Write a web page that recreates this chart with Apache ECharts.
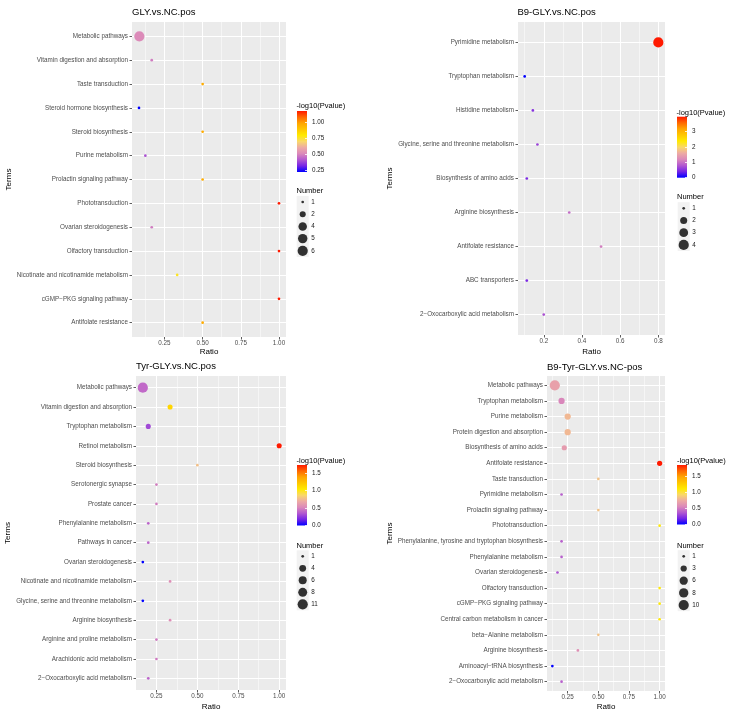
<!DOCTYPE html>
<html>
<head>
<meta charset="utf-8">
<title>KEGG bubble charts</title>
<script src="https://cdn.jsdelivr.net/npm/echarts@6/dist/echarts.min.js"></script>
<style>
  html, body { margin: 0; padding: 0; background: #fff; }
  #main { width: 734px; height: 719px; }
</style>
</head>
<body>
<div id="main"></div>
<script>
// ---------- GLY.vs.NC.pos ----------
var terms1 = ['Metabolic pathways', 'Vitamin digestion and absorption', 'Taste transduction',
  'Steroid hormone biosynthesis', 'Steroid biosynthesis', 'Purine metabolism',
  'Prolactin signaling pathway', 'Phototransduction', 'Ovarian steroidogenesis',
  'Olfactory transduction', 'Nicotinate and nicotinamide metabolism',
  'cGMP\u2212PKG signaling pathway', 'Antifolate resistance'];
var ratio1 = [0.0857, 0.1667, 0.5, 0.0833, 0.5, 0.125, 0.5, 1.0, 0.1667, 1.0, 0.3333, 1.0, 0.5];
var logp1 = [0.51, 0.48, 0.96, 0.22, 0.96, 0.40, 0.96, 1.17, 0.48, 1.17, 0.76, 1.17, 0.96];
var number1 = [6, 1, 1, 1, 1, 1, 1, 1, 1, 1, 1, 1, 1];
var xTicks1 = ['0.25', '0.50', '0.75', '1.00'];
var xMinor1 = [0.125, 0.375, 0.625, 0.875];
var colorTicks1 = ['0.25', '0.50', '0.75', '1.00'];
var sizeBreaks1 = [1, 2, 4, 5, 6];

// ---------- B9-GLY.vs.NC.pos ----------
var terms2 = ['Pyrimidine metabolism', 'Tryptophan metabolism', 'Histidine metabolism',
  'Glycine, serine and threonine metabolism', 'Biosynthesis of amino acids',
  'Arginine biosynthesis', 'Antifolate resistance', 'ABC transporters',
  '2\u2212Oxocarboxylic acid metabolism'];
var ratio2 = [0.8, 0.1, 0.1429, 0.1667, 0.1111, 0.3333, 0.5, 0.1111, 0.2];
var logp2 = [3.95, 0.0, 0.52, 0.64, 0.44, 0.95, 1.1, 0.44, 0.75];
var number2 = [4, 1, 1, 1, 1, 1, 1, 1, 1];
var xTicks2 = ['0.2', '0.4', '0.6', '0.8'];
var xMinor2 = [0.1, 0.3, 0.5, 0.7];
var colorTicks2 = ['0', '1', '2', '3'];
var sizeBreaks2 = [1, 2, 3, 4];

// ---------- Tyr-GLY.vs.NC.pos ----------
var terms3 = ['Metabolic pathways', 'Vitamin digestion and absorption', 'Tryptophan metabolism',
  'Retinol metabolism', 'Steroid biosynthesis', 'Serotonergic synapse', 'Prostate cancer',
  'Phenylalanine metabolism', 'Pathways in cancer', 'Ovarian steroidogenesis',
  'Nicotinate and nicotinamide metabolism', 'Glycine, serine and threonine metabolism',
  'Arginine biosynthesis', 'Arginine and proline metabolism', 'Arachidonic acid metabolism',
  '2\u2212Oxocarboxylic acid metabolism'];
var ratio3 = [0.1667, 0.3333, 0.2, 1.0, 0.5, 0.25, 0.25, 0.2, 0.2, 0.1667, 0.3333, 0.1667, 0.3333, 0.25, 0.25, 0.2];
var logp3 = [0.41, 1.15, 0.30, 1.74, 0.78, 0.48, 0.48, 0.39, 0.39, 0.0, 0.55, 0.0, 0.55, 0.47, 0.47, 0.39];
var number3 = [11, 2, 2, 2, 1, 1, 1, 1, 1, 1, 1, 1, 1, 1, 1, 1];
var xTicks3 = ['0.25', '0.50', '0.75', '1.00'];
var xMinor3 = [0.125, 0.375, 0.625, 0.875];
var colorTicks3 = ['0.0', '0.5', '1.0', '1.5'];
var sizeBreaks3 = [1, 4, 6, 8, 11];

// ---------- B9-Tyr-GLY.vs.NC-pos ----------
var terms4 = ['Metabolic pathways', 'Tryptophan metabolism', 'Purine metabolism',
  'Protein digestion and absorption', 'Biosynthesis of amino acids', 'Antifolate resistance',
  'Taste transduction', 'Pyrimidine metabolism', 'Prolactin signaling pathway',
  'Phototransduction', 'Phenylalanine, tyrosine and tryptophan biosynthesis',
  'Phenylalanine metabolism', 'Ovarian steroidogenesis', 'Olfactory transduction',
  'cGMP\u2212PKG signaling pathway', 'Central carbon metabolism in cancer',
  'beta\u2212Alanine metabolism', 'Arginine biosynthesis', 'Aminoacyl\u2212tRNA biosynthesis',
  '2\u2212Oxocarboxylic acid metabolism'];
var ratio4 = [0.1449, 0.2, 0.25, 0.25, 0.2222, 1.0, 0.5, 0.2, 0.5, 1.0, 0.2, 0.2, 0.1667, 1.0, 1.0, 1.0, 0.5, 0.3333, 0.125, 0.2];
var logp4 = [0.69, 0.55, 0.80, 0.80, 0.66, 1.86, 0.84, 0.40, 0.84, 1.10, 0.40, 0.40, 0.36, 1.10, 1.10, 1.10, 0.84, 0.60, 0.0, 0.40];
var number4 = [10, 3, 3, 3, 2, 2, 1, 1, 1, 1, 1, 1, 1, 1, 1, 1, 1, 1, 1, 1];
var xTicks4 = ['0.25', '0.50', '0.75', '1.00'];
var xMinor4 = [0.125, 0.375, 0.625, 0.875];
var colorTicks4 = ['0.0', '0.5', '1.0', '1.5'];
var sizeBreaks4 = [1, 3, 6, 8, 10];

// colour ramp: blue -> purple -> pink -> yellow -> orange -> red
var ramp = ['#0000ff', '#7524e6', '#b258d0', '#db89ba', '#edaaa4', '#f9d86a',
  '#ffea00', '#ffc700', '#ffa500', '#ff6700', '#ff1a00'];

var panels = [
  { title: 'GLY.vs.NC.pos', terms: terms1, ratio: ratio1, logp: logp1, number: number1,
    xTicks: xTicks1, xMinor: xMinor1, colorTicks: colorTicks1, sizeBreaks: sizeBreaks1 },
  { title: 'B9-GLY.vs.NC.pos', terms: terms2, ratio: ratio2, logp: logp2, number: number2,
    xTicks: xTicks2, xMinor: xMinor2, colorTicks: colorTicks2, sizeBreaks: sizeBreaks2 },
  { title: 'Tyr-GLY.vs.NC.pos', terms: terms3, ratio: ratio3, logp: logp3, number: number3,
    xTicks: xTicks3, xMinor: xMinor3, colorTicks: colorTicks3, sizeBreaks: sizeBreaks3 },
  { title: 'B9-Tyr-GLY.vs.NC-pos', terms: terms4, ratio: ratio4, logp: logp4, number: number4,
    xTicks: xTicks4, xMinor: xMinor4, colorTicks: colorTicks4, sizeBreaks: sizeBreaks4 }
];

// where each panel sits on the page (pixels)
var layouts = [
  { plot: [132, 22, 154, 315], title: [132, 7], cb: [297, 111, 61], cbTitle: [296.5, 102],
    size: [302.7, 202, 12.2], sizeTitle: [296.5, 187], yGap: 115, xGap: 11 },
  { plot: [518, 22, 147, 313], title: [517.5, 7], cb: [677, 116.7, 61], cbTitle: [676.5, 108.5],
    size: [683.7, 208.3, 12.2], sizeTitle: [677, 193], yGap: 123, xGap: 12.5 },
  { plot: [136, 376, 150, 314], title: [136, 361.5], cb: [297, 465, 60.5], cbTitle: [296.5, 456.5],
    size: [302.7, 556.3, 12], sizeTitle: [296.5, 541.5], yGap: 119, xGap: 12.5 },
  { plot: [547, 376, 118, 315], title: [547, 362], cb: [677, 465, 59.5], cbTitle: [677, 456.5],
    size: [683.7, 556.3, 12.2], sizeTitle: [677, 541.5], yGap: 152, xGap: 11.7 }
];

var FONT = '"Liberation Sans", Arial, Helvetica, sans-serif';
var AXIS_TEXT = { fontSize: 6.3, color: '#4d4d4d', fontFamily: FONT };
var TICK_LINE = { color: '#333333', width: 0.8 };

function labelFor(labels) {
  var vals = labels.map(Number);
  return function (v) {
    for (var i = 0; i < vals.length; i++) {
      if (Math.abs(vals[i] - v) < 1e-9) return labels[i];
    }
    return '';
  };
}

function range(n) {
  var a = [];
  for (var i = 0; i < n; i++) a.push(i);
  return a;
}

var option = {
  backgroundColor: '#ffffff',
  animation: false,
  textStyle: { fontFamily: FONT },
  title: [], grid: [], xAxis: [], yAxis: [], series: [], visualMap: []
};

panels.forEach(function (p, k) {
  var L = layouts[k];
  var n = p.terms.length;
  var xmin = Math.min.apply(null, p.ratio), xmax = Math.max.apply(null, p.ratio);
  var pad = (xmax - xmin) * 0.05;
  var pmin = Math.min.apply(null, p.logp), pmax = Math.max.apply(null, p.logp);
  var nmin = Math.min.apply(null, p.number), nmax = Math.max.apply(null, p.number);

  // ggplot-like area scale, size 1..6
  function dot(v) {
    var s = nmax > nmin ? 1 + 5 * Math.sqrt((v - nmin) / (nmax - nmin)) : 3.5;
    return 1.5 * s + 1.2;
  }

  var g = option.grid.length, xa = option.xAxis.length, ya = option.yAxis.length;

  // main plot
  option.grid.push({ left: L.plot[0], top: L.plot[1], width: L.plot[2], height: L.plot[3],
    show: true, backgroundColor: '#ebebeb', borderWidth: 0, outerBoundsMode: 'none' });
  // colour bar
  option.grid.push({ left: L.cb[0], top: L.cb[1], width: 10, height: L.cb[2],
    show: true, borderWidth: 0, outerBoundsMode: 'none',
    backgroundColor: new echarts.graphic.LinearGradient(0, 1, 0, 0, ramp.map(function (c, i) {
      return { offset: i / (ramp.length - 1), color: c };
    })) });
  // size keys
  var m = p.sizeBreaks.length;
  option.grid.push({ left: L.size[0] - 6, top: L.size[1] - L.size[2] / 2, width: 12,
    height: m * L.size[2], show: true, backgroundColor: '#f2f2f2', borderWidth: 0,
    outerBoundsMode: 'none' });

  var xVals = p.xTicks.map(Number);
  option.xAxis.push({
    type: 'value', gridIndex: g, position: 'bottom', min: xmin - pad, max: xmax + pad,
    name: 'Ratio', nameLocation: 'middle', nameGap: L.xGap,
    nameTextStyle: { fontSize: 8, color: '#000', fontFamily: FONT },
    axisLine: { show: false, onZero: false },
    axisTick: { show: true, length: 2.5, lineStyle: TICK_LINE, customValues: xVals },
    axisLabel: { customValues: xVals, formatter: labelFor(p.xTicks), margin: 3.5,
      fontSize: AXIS_TEXT.fontSize, color: AXIS_TEXT.color },
    splitLine: { show: true, lineStyle: { color: '#ffffff', width: 1 } }
  });
  // minor grid lines
  option.xAxis.push({
    type: 'value', gridIndex: g, position: 'top', min: xmin - pad, max: xmax + pad,
    axisLine: { show: false, onZero: false },
    axisTick: { show: false, customValues: p.xMinor },
    axisLabel: { show: false, customValues: p.xMinor },
    splitLine: { show: true, lineStyle: { color: '#ffffff', width: 0.5 } }
  });
  option.xAxis.push({ type: 'value', gridIndex: g + 1, show: false });
  option.xAxis.push({ type: 'value', gridIndex: g + 2, show: false, min: -1, max: 1 });

  var idx = range(n);
  option.yAxis.push({
    type: 'value', gridIndex: g, position: 'left', inverse: true, min: -0.6, max: n - 0.4,
    name: 'Terms', nameLocation: 'middle', nameGap: L.yGap,
    nameTextStyle: { fontSize: 8, color: '#000', fontFamily: FONT },
    axisLine: { show: false, onZero: false },
    axisTick: { show: true, length: 2.5, lineStyle: TICK_LINE, customValues: idx },
    axisLabel: { customValues: idx, margin: 4, fontSize: AXIS_TEXT.fontSize, color: AXIS_TEXT.color,
      formatter: function (v) { return p.terms[Math.round(v)] || ''; } },
    splitLine: { show: true, lineStyle: { color: '#ffffff', width: 1 } }
  });
  var cVals = p.colorTicks.map(Number);
  option.yAxis.push({
    type: 'value', gridIndex: g + 1, position: 'right', min: pmin, max: pmax,
    axisLine: { show: false, onZero: false },
    axisTick: { show: true, inside: true, length: 2, lineStyle: { color: '#ffffff', width: 0.8 },
      customValues: cVals },
    axisLabel: { customValues: cVals, formatter: labelFor(p.colorTicks), margin: 5,
      fontSize: 6.3, color: '#1a1a1a' },
    splitLine: { show: false }
  });
  var sIdx = range(m);
  option.yAxis.push({
    type: 'value', gridIndex: g + 2, position: 'right', inverse: true, min: -0.5, max: m - 0.5,
    axisLine: { show: false, onZero: false }, axisTick: { show: false, customValues: sIdx },
    axisLabel: { customValues: sIdx, margin: 2.5, fontSize: 6.3, color: '#1a1a1a',
      formatter: function (v) { return String(p.sizeBreaks[Math.round(v)]); } },
    splitLine: { show: false }
  });

  var si = option.series.length;
  option.series.push({
    type: 'scatter', xAxisIndex: xa, yAxisIndex: ya, silent: true,
    data: p.terms.map(function (t, i) { return [p.ratio[i], i, p.logp[i], p.number[i], t]; }),
    symbolSize: function (d) { return dot(d[3]); },
    itemStyle: { opacity: 1 }
  });
  option.series.push({
    type: 'scatter', xAxisIndex: xa + 3, yAxisIndex: ya + 2, silent: true,
    data: p.sizeBreaks.map(function (b, i) { return [0, i, b]; }),
    symbolSize: function (d) { return dot(d[2]); },
    itemStyle: { color: '#000000' }
  });
  option.visualMap.push({
    type: 'continuous', show: false, seriesIndex: si, dimension: 2,
    min: pmin, max: pmax, inRange: { color: ramp }
  });

  option.title.push({ text: p.title, left: L.title[0], top: L.title[1], padding: 0,
    textStyle: { fontSize: 9.5, fontWeight: 'normal', color: '#000', fontFamily: FONT } });
  option.title.push({ text: '-log10(Pvalue)', left: L.cbTitle[0], top: L.cbTitle[1], padding: 0,
    textStyle: { fontSize: 7.5, fontWeight: 'normal', color: '#000', fontFamily: FONT } });
  option.title.push({ text: 'Number', left: L.sizeTitle[0], top: L.sizeTitle[1], padding: 0,
    textStyle: { fontSize: 7.5, fontWeight: 'normal', color: '#000', fontFamily: FONT } });
});

var chart = echarts.init(document.getElementById('main'));
chart.setOption(option);
</script>
</body>
</html>
